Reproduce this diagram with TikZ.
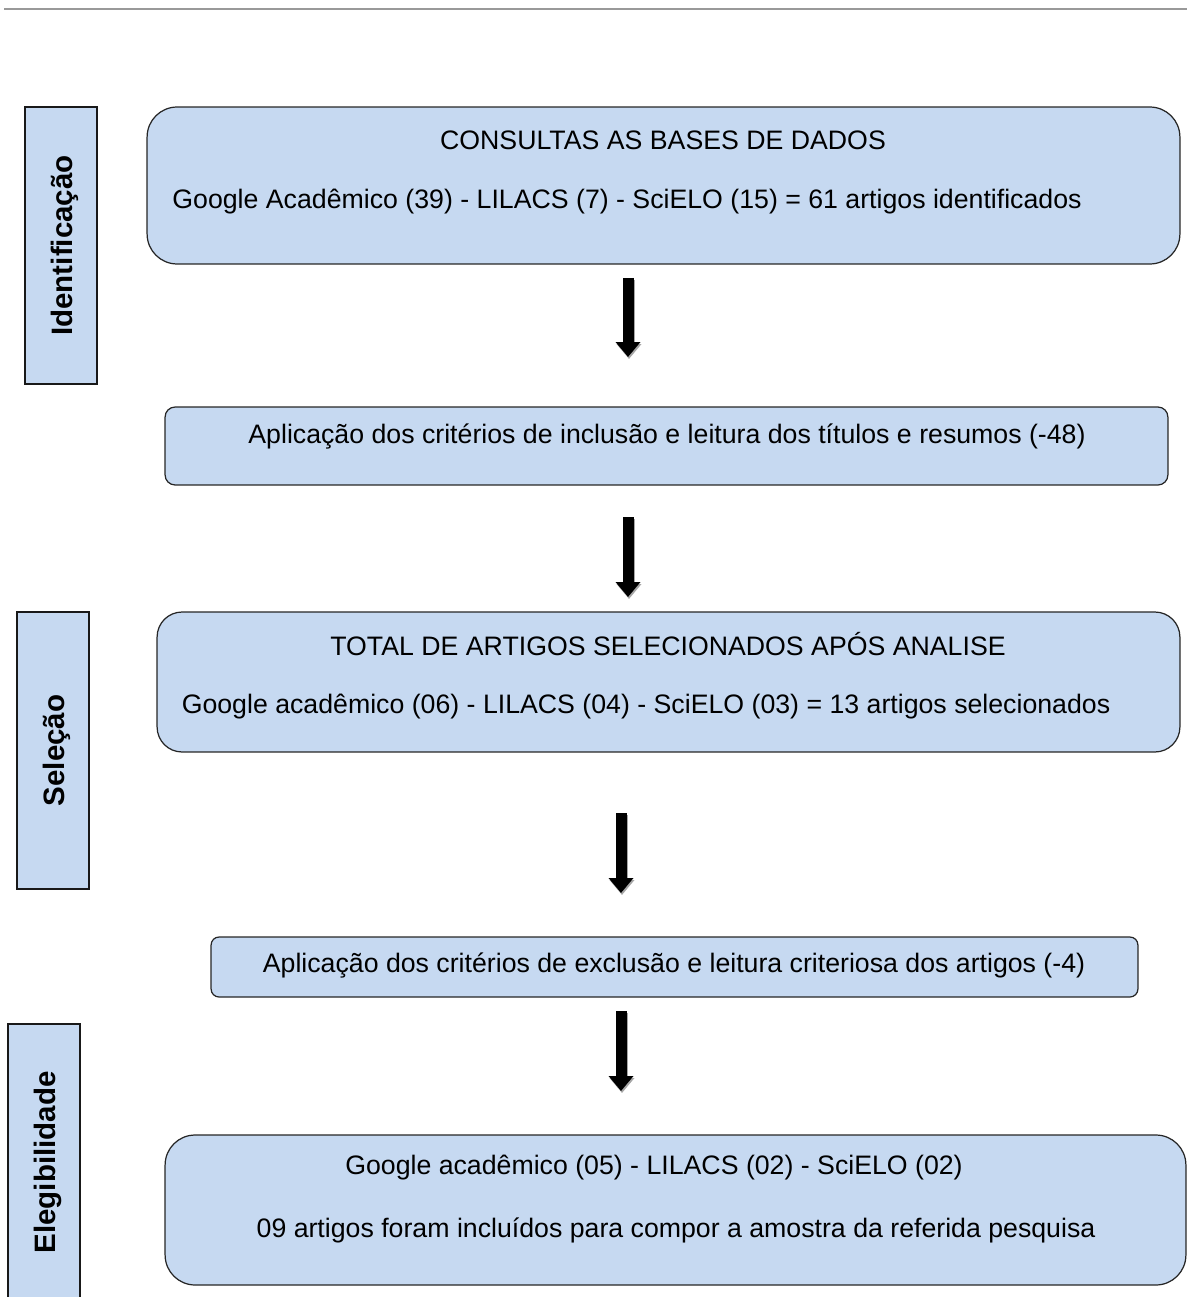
\documentclass[tikz,border=0pt]{standalone}
\usepackage{fontspec}
\setmainfont{Liberation Sans}
\usetikzlibrary{arrows.meta,positioning}

\definecolor{boxblue}{HTML}{C6D9F1}
\definecolor{rulegray}{HTML}{999999}

\tikzset{
  etapa/.style={draw=black!85,fill=boxblue,line width=0.7pt},
  fase/.style={draw=black!90,fill=boxblue,line width=1.4pt,minimum width=1.44cm,minimum height=5.54cm},
  fasetxt/.style={rotate=90,font=\bfseries\fontsize{16.8}{19}\selectfont},
  txt/.style={font=\fontsize{15.2}{18}\selectfont,inner sep=0pt},
  seta/.style={line width=0.22cm,-{Triangle[width=0.48cm,length=0.3cm]}},
  sombra/.style={seta,draw=black!35}
}

\begin{document}
\begin{tikzpicture}[x=0.02cm,y=-0.02cm]
  \useasboundingbox (0,0) rectangle (1187,1297);
  \clip (0,0) rectangle (1187,1297);
  \draw[rulegray,line width=1.5pt] (4,9) -- (1187,9);

  % fases
  \node[fase] (ident) at (61,245.5) {};
  \node[fasetxt] at ([xshift=2]ident.center) {Identificação};
  \node[fase] (selec) at (53,750.5) {};
  \node[fasetxt] at ([xshift=2]selec.center) {Seleção};
  \node[fase] (eleg) at (44,1162.5) {};
  \node[fasetxt] at ([xshift=2]eleg.center) {Elegibilidade};

  % caixas
  \node[etapa,rounded corners=0.6cm,minimum width=20.66cm,minimum height=3.14cm] (bases) at (663.5,185.5) {};
  \node[txt] (basest) at (663,140) {CONSULTAS AS BASES DE DADOS};
  \node[txt] (basesn) at (627,202) {Google Acadêmico (39) - LILACS (7) - SciELO (15) = 61 artigos identificados};

  \node[etapa,rounded corners=0.2cm,minimum width=20.06cm,minimum height=1.56cm] (incl) at (666.5,446) {};
  \node[txt] (inclt) at (667,436) {Aplicação dos critérios de inclusão e leitura dos títulos e resumos (-48)};

  \node[etapa,rounded corners=0.5cm,minimum width=20.46cm,minimum height=2.8cm] (total) at (668.5,682) {};
  \node[txt] (totalt) at (668,644) {TOTAL DE ARTIGOS SELECIONADOS APÓS ANALISE};
  \node[txt] (totaln) at (646,707) {Google acadêmico (06) - LILACS (04) - SciELO (03) = 13 artigos selecionados};

  \node[etapa,rounded corners=0.16cm,minimum width=18.54cm,minimum height=1.2cm] (excl) at (674.5,967) {};
  \node[txt] (exclt) at (674,965) {Aplicação dos critérios de exclusão e leitura criteriosa dos artigos (-4)};

  \node[etapa,rounded corners=0.6cm,minimum width=20.42cm,minimum height=3.0cm] (amostra) at (675.5,1210) {};
  \node[txt] (amostrat) at (654,1168) {Google acadêmico (05) - LILACS (02) - SciELO (02)};
  \node[txt] (amostran) at (676,1230) {09 artigos foram incluídos para compor a amostra da referida pesquisa};

  % setas
  \coordinate (s1a) at (628,278);  \coordinate (s1b) at (628,357);
  \coordinate (s2a) at (628,517);  \coordinate (s2b) at (628,597);
  \coordinate (s3a) at (621,813);  \coordinate (s3b) at (621,893);
  \coordinate (s4a) at (621,1011); \coordinate (s4b) at (621,1091);
  \foreach \a/\b in {s1a/s1b,s2a/s2b,s3a/s3b,s4a/s4b}{
    \draw[sombra] ([shift={(1,2)}]\a) -- ([shift={(1,2)}]\b);
    \draw[seta] (\a) -- (\b);
  }
\end{tikzpicture}
\end{document}
